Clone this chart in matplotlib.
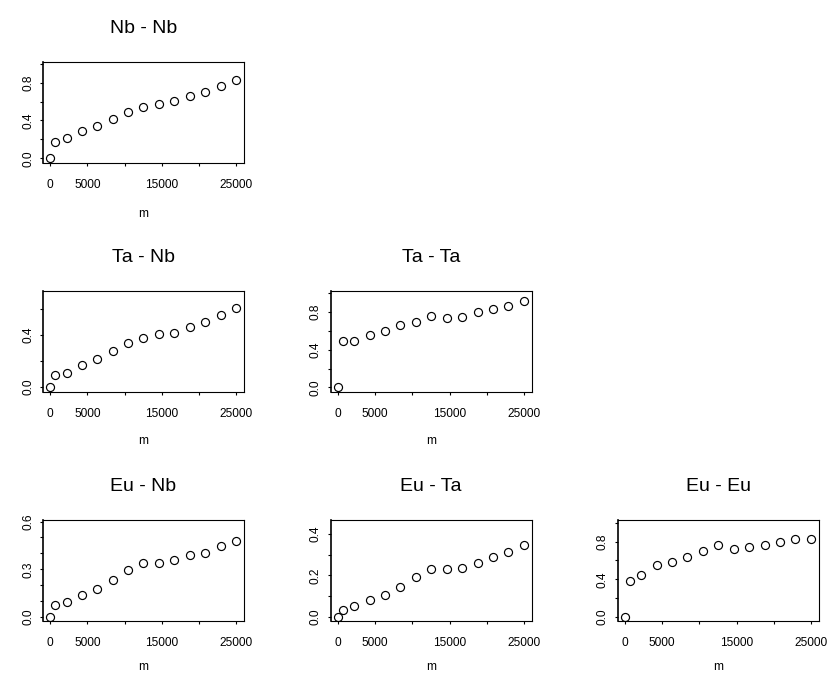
import matplotlib
matplotlib.use('Agg')
import matplotlib.pyplot as plt

plt.rcParams['font.family'] = ['Liberation Sans', 'DejaVu Sans']

# ---- data ----
m = [0, 650, 2200, 4250, 6300, 8380, 10450, 12520, 14600, 16680, 18750, 20820, 22900, 25000]

nb_nb = [0.0, 0.176, 0.211, 0.289, 0.342, 0.419, 0.493, 0.539, 0.577, 0.609, 0.658, 0.697, 0.764, 0.824]
ta_nb = [0.0, 0.090, 0.110, 0.167, 0.218, 0.274, 0.336, 0.377, 0.403, 0.415, 0.462, 0.497, 0.549, 0.608]
ta_ta = [0.0, 0.493, 0.496, 0.557, 0.599, 0.663, 0.699, 0.755, 0.741, 0.748, 0.798, 0.830, 0.865, 0.918]
eu_nb = [0.0, 0.074, 0.095, 0.139, 0.179, 0.232, 0.293, 0.337, 0.341, 0.356, 0.387, 0.404, 0.446, 0.476]
eu_ta = [0.0, 0.035, 0.053, 0.080, 0.107, 0.147, 0.195, 0.232, 0.229, 0.238, 0.262, 0.288, 0.314, 0.346]
eu_eu = [0.0, 0.381, 0.441, 0.548, 0.580, 0.641, 0.701, 0.762, 0.726, 0.744, 0.769, 0.801, 0.833, 0.833]

titles = ['Nb - Nb', 'Ta - Nb', 'Ta - Ta', 'Eu - Nb', 'Eu - Ta', 'Eu - Eu']
x_label = 'm'
x_ticks = [0, 5000, 10000, 15000, 20000, 25000]
x_tick_labels = ['0', '5000', '', '15000', '', '25000']

yt_10 = [0.0, 0.2, 0.4, 0.6, 0.8, 1.0]
yl_10 = ['0.0', '', '0.4', '', '0.8', '']
yt_06 = [0.0, 0.2, 0.4, 0.6]
yl_06 = ['0.0', '', '0.4', '']
yt_eunb = [0.0, 0.1, 0.2, 0.3, 0.4, 0.5, 0.6]
yl_eunb = ['0.0', '', '', '0.3', '', '', '0.6']
yt_euta = [0.0, 0.1, 0.2, 0.3, 0.4]
yl_euta = ['0.0', '', '0.2', '', '0.4']

# ---- layout ----
W, H = 830, 676
fig = plt.figure(figsize=(W / 100, H / 100), dpi=100)

col_left = [42.7, 330.5, 617.5]
row_top = [61.7, 290.7, 520.0]
xlab_off = [54.0, 52.0, 49.0]
bw, bh = 201.0, 101.0

panels = [
    (0, 0, nb_nb, yt_10, yl_10, (-0.045, 1.02)),
    (1, 0, ta_nb, yt_06, yl_06, (-0.035, 0.737)),
    (1, 1, ta_ta, yt_10, yl_10, (-0.046, 1.028)),
    (2, 0, eu_nb, yt_eunb, yl_eunb, (-0.025, 0.61)),
    (2, 1, eu_ta, yt_euta, yl_euta, (-0.019, 0.467)),
    (2, 2, eu_eu, yt_10, yl_10, (-0.043, 1.03)),
]

tick_fs = 8.6
title_fs = 14.0

for (row, col, vals, yt, yl, ylim), title in zip(panels, titles):
    left = col_left[col] / W
    bottom = 1 - (row_top[row] + bh) / H
    ax = fig.add_axes([left, bottom, bw / W, bh / H])
    ax.plot(m, vals, linestyle='none', marker='o', markersize=5.8,
            markerfacecolor='none', markeredgecolor='black', markeredgewidth=0.85)
    ax.set_xlim(-1000, 26000)
    ax.set_ylim(*ylim)
    ax.set_xticks(x_ticks)
    ax.set_xticklabels(x_tick_labels, fontsize=tick_fs)
    ax.set_yticks(yt)
    ax.set_yticklabels(yl, fontsize=tick_fs, rotation=90, va='center')
    ax.tick_params(axis='both', direction='out', length=2.2, width=0.8, color='black')
    ax.tick_params(axis='x', pad=9.2)
    ax.tick_params(axis='y', pad=4.0)
    for s in ax.spines.values():
        s.set_linewidth(0.8)
        s.set_color('black')
    ax.spines['left'].set_linewidth(1.2)
    ax.set_xlabel(x_label, fontsize=tick_fs, va='baseline')
    ax.xaxis.set_label_coords(0.5, -xlab_off[row] / bh)
    ax.set_title(title, fontsize=title_fs, y=1 + 29.0 / bh, pad=0, va='baseline')

fig.savefig('out.png', dpi=100)
